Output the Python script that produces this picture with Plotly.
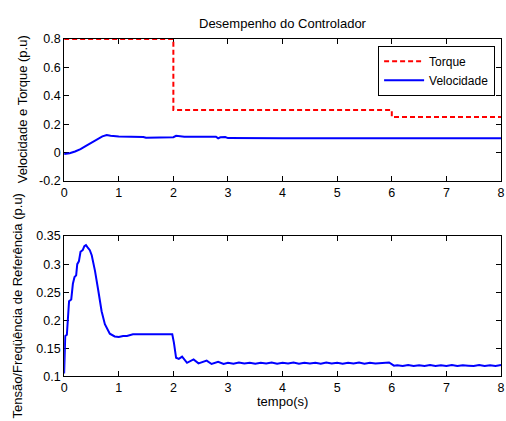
import plotly.graph_objects as go

# ---- data ----
torque_t = [0, 2, 6, 8]
torque_v = [0.8, 0.3, 0.25, 0.25]

vel_t = [0, 0.05, 0.1, 0.2, 0.3, 0.4, 0.5, 0.6, 0.7, 0.78, 0.85, 1.0, 1.2, 1.45, 1.5,
         1.9, 2.0, 2.05, 2.12, 2.2, 2.5, 2.78, 2.82, 2.86, 2.95, 3.0, 4.0, 5.0, 6.0, 7.0, 8.0]
vel_v = [-0.01, -0.008, -0.005, 0.008, 0.025, 0.048, 0.07, 0.092, 0.114, 0.124, 0.118,
         0.113, 0.112, 0.11, 0.104, 0.104, 0.108, 0.118, 0.115, 0.112, 0.112, 0.112,
         0.1, 0.108, 0.11, 0.102, 0.101, 0.101, 0.101, 0.101, 0.101]

ref_t = [0, 0.01, 0.02, 0.05, 0.07, 0.09, 0.13, 0.16, 0.19, 0.22, 0.24, 0.27, 0.3, 0.34,
         0.37, 0.4, 0.43, 0.47, 0.505, 0.565, 0.625, 0.686, 0.746, 0.836, 0.926, 1.0,
         1.08, 1.15, 1.26, 1.5, 1.98, 2.01, 2.05, 2.1, 2.16, 2.25, 2.37, 2.46, 2.61, 2.7,
         2.82, 2.92, 3.0, 3.1, 3.2, 3.3, 3.4, 3.5, 3.6, 3.7, 3.8, 3.9, 4.0, 4.1, 4.2, 4.3,
         4.4, 4.5, 4.6, 4.7, 4.8, 4.9, 5.0, 5.1, 5.2, 5.3, 5.4, 5.5, 5.6, 5.7, 5.8, 5.95,
         6.04, 6.1, 6.2, 6.3, 6.4, 6.5, 6.6, 6.7, 6.8, 6.9, 7.0, 7.1, 7.2, 7.3, 7.4, 7.5,
         7.6, 7.7, 7.8, 7.9, 8.0]
ref_v = [0.105, 0.15, 0.172, 0.174, 0.2, 0.234, 0.237, 0.265, 0.277, 0.28, 0.3, 0.305,
         0.322, 0.325, 0.332, 0.334, 0.33, 0.325, 0.316, 0.288, 0.253, 0.216, 0.193,
         0.176, 0.171, 0.170, 0.172, 0.172, 0.175, 0.175, 0.175, 0.16, 0.133, 0.131,
         0.135, 0.124, 0.130, 0.123, 0.128, 0.122, 0.126, 0.122, 0.124, 0.1225, 0.1245,
         0.123, 0.124, 0.1225, 0.124, 0.123, 0.1245, 0.1225, 0.124, 0.123, 0.1245,
         0.1225, 0.124, 0.123, 0.124, 0.1225, 0.1245, 0.123, 0.124, 0.1225, 0.124,
         0.123, 0.1245, 0.1225, 0.124, 0.123, 0.124, 0.1247, 0.119, 0.1195, 0.1185,
         0.12, 0.1185, 0.1195, 0.1185, 0.12, 0.1185, 0.1195, 0.1185, 0.12, 0.1185,
         0.1195, 0.119, 0.1185, 0.12, 0.1185, 0.1195, 0.1185, 0.12]

x_ticks = [0, 1, 2, 3, 4, 5, 6, 7, 8]
top_yticks = [-0.2, 0, 0.2, 0.4, 0.6, 0.8]
top_ylabels = ["-0.2", "0", "0.2", "0.4", "0.6", "0.8"]
bot_yticks = [0.1, 0.15, 0.2, 0.25, 0.3, 0.35]
bot_ylabels = ["0.1", "0.15", "0.2", "0.25", "0.3", "0.35"]

FONT = "Arial, Liberation Sans, sans-serif"
W, H = 506, 421
TXT = 13

fig = go.Figure()
fig.add_trace(go.Scatter(x=torque_t, y=torque_v, mode="lines", line_shape="hv",
                         name="Torque", line=dict(color="#ff0000", width=2, dash="5px,3px"),
                         cliponaxis=False, xaxis="x", yaxis="y"))
fig.add_trace(go.Scatter(x=vel_t, y=vel_v, mode="lines", name="Velocidade",
                         line=dict(color="#0000ff", width=2), xaxis="x", yaxis="y"))
fig.add_trace(go.Scatter(x=ref_t, y=ref_v, mode="lines", showlegend=False,
                         line=dict(color="#0000ff", width=2), xaxis="x2", yaxis="y2"))

axis_common = dict(showline=True, linecolor="black", linewidth=1, mirror="ticks",
                   ticks="inside", ticklen=5, tickcolor="black", showgrid=False,
                   zeroline=False, ticklabeloverflow="allow", layer="below traces",
                   tickfont=dict(family=FONT, size=12.5, color="black"))


def px(x):
    return x / W


def py(y):
    return (H - y) / H


X0, X1 = px(62), px(505)
ann = dict(xref="paper", yref="paper", showarrow=False, xanchor="center", yanchor="middle")
fig.update_layout(
    width=W, height=H, margin=dict(l=0, r=0, t=0, b=0, pad=0),
    paper_bgcolor="white", plot_bgcolor="white",
    xaxis=dict(domain=[X0, X1], range=[0, 8], tickvals=x_ticks, anchor="y", **axis_common),
    yaxis=dict(domain=[py(180), py(33)], range=[-0.2, 0.8],
               tickvals=top_yticks, ticktext=top_ylabels, anchor="x", **axis_common),
    xaxis2=dict(domain=[X0, X1], range=[0, 8], tickvals=x_ticks, anchor="y2", **axis_common),
    yaxis2=dict(domain=[py(382), py(237)], range=[0.1, 0.35],
                tickvals=bot_yticks, ticktext=bot_ylabels, anchor="x2", **axis_common),
    legend=dict(x=px(499), y=py(40), xanchor="right", yanchor="top",
                bgcolor="white", bordercolor="black", borderwidth=1, itemwidth=40,
                font=dict(family=FONT, size=12, color="black"), tracegroupgap=0),
    showlegend=True,
    annotations=[
        dict(text="Desempenho do Controlador", x=px(283.5), y=py(17),
             font=dict(family=FONT, size=TXT, color="black"), **ann),
        dict(text="Velocidade e Torque (p.u)", x=px(20), y=py(106), textangle=-90,
             font=dict(family=FONT, size=TXT, color="black"), **ann),
        dict(text="Tensão/Freqüência de Referência (p.u)", x=px(15), y=py(309),
             textangle=-90, font=dict(family=FONT, size=TXT, color="black"), **ann),
        dict(text="tempo(s)", x=px(283.5), y=py(408),
             font=dict(family=FONT, size=TXT, color="black"), **ann),
    ],
)

fig.write_html("out.html")
